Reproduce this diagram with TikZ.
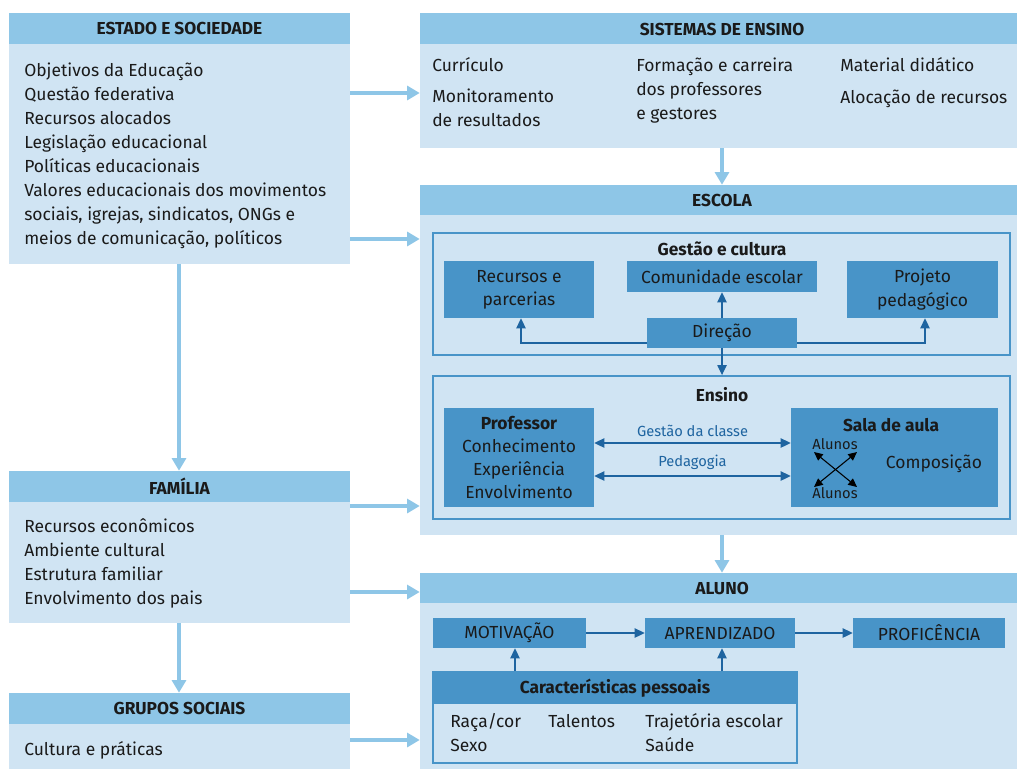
\documentclass[tikz,border=0pt]{standalone}
\usepackage{fontspec}
\setmainfont{Fira Sans}
\usetikzlibrary{arrows.meta,fit}
\definecolor{hdrc}{HTML}{8EC6E7}
\definecolor{bdy}{HTML}{D0E4F3}
\definecolor{mid}{HTML}{4894C8}
\definecolor{dk}{HTML}{1E64A0}
\definecolor{txt}{HTML}{1A1A1A}
\newcommand\myBody{\fontsize{13.1}{17.5}\selectfont}
\newcommand\myHead{\fontsize{13}{15}\selectfont\bfseries}
\newcommand\mySmall{\fontsize{11}{13}\selectfont}
\begin{document}
\begin{tikzpicture}[x=0.75pt,y=-0.75pt,
  every node/.style={text=txt},
  panel/.style={fill=bdy,draw=none,inner sep=0pt},
  hdr/.style={fill=hdrc,draw=none,inner sep=0pt},
  mbox/.style={fill=mid,draw=none,inner sep=0pt},
  frame/.style={draw=mid,line width=1.4pt,fill=none,inner sep=0pt},
  tx/.style={inner sep=0pt,align=center,font=\myBody},
  ht/.style={inner sep=0pt,font=\myHead},
  lb/.style={draw=hdrc,line width=2.3pt,-{Triangle[length=9.5pt,width=10.5pt]}},
  dka/.style={draw=dk,line width=0.9pt,-{Triangle[length=7.5pt,width=7pt]}},
  dkb/.style={draw=dk,line width=0.9pt,{Triangle[length=7.5pt,width=7pt]}-{Triangle[length=7.5pt,width=7pt]}},
  bka/.style={draw=black,line width=0.8pt,{Triangle[length=6.5pt,width=6pt]}-{Triangle[length=6.5pt,width=6pt]}},
  ln/.style={anchor=base west,inner sep=0pt,font=\myBody},
  lbl/.style={inner sep=0pt,font=\mySmall,text=dk},
]
\useasboundingbox (0,0) rectangle (1017,769);

% ---------- left column ----------
\node[panel,fit={(9,13)(350,264)}] (estado) {};
\node[hdr,fit={(9,13)(350,44)}] (estadoH) {};
\node[ht] at (estadoH.center) {ESTADO E SOCIEDADE};
\foreach \t [count=\i from 0] in {Objetivos da Educação,Questão federativa,Recursos alocados,Legislação educacional,Políticas educacionais,Valores educacionais dos movimentos,{sociais, igrejas, sindicatos, ONGs e},{meios de comunicação, políticos}}
  \node[ln] (est\i) at (24,76+24*\i) {\t};

\node[panel,fit={(9,471)(350,623)}] (fam) {};
\node[hdr,fit={(9,471)(350,502)}] (famH) {};
\node[ht] at (famH.center) {FAMÍLIA};
\foreach \t [count=\i from 0] in {Recursos econômicos,Ambiente cultural,Estrutura familiar,Envolvimento dos pais}
  \node[ln] (fam\i) at (24,532+24*\i) {\t};

\node[panel,fit={(9,693)(350,769)}] (grp) {};
\node[hdr,fit={(9,693)(350,724)}] (grpH) {};
\node[ht] at (grpH.center) {GRUPOS SOCIAIS};
\node[ln] (grp0) at (24,755) {Cultura e práticas};

% ---------- sistemas ----------
\node[panel,fit={(420,13)(1017,148)}] (sist) {};
\node[hdr,fit={(420,13)(1017,44)}] (sistH) {};
\node[ht] at (722,29) {SISTEMAS DE ENSINO};
\node[ln] (s1) at (432,71) {Currículo};
\node[ln] (s2) at (432,102) {Monitoramento};
\node[ln] (s3) at (432,126) {de resultados};
\node[ln] (s4) at (636,71) {Formação e carreira};
\node[ln] (s5) at (636,95) {dos professores};
\node[ln] (s6) at (636,119) {e gestores};
\node[ln] (s7) at (840,71) {Material didático};
\node[ln] (s8) at (840,103) {Alocação de recursos};

% ---------- escola ----------
\node[panel,fit={(420,185)(1017,535)}] (escola) {};
\node[hdr,fit={(420,185)(1017,215)}] (escolaH) {};
\node[ht] at (722,200) {ESCOLA};
\node[frame,fit={(433,233)(1010,355)}] (gest) {};
\node[ht] (gestT) at (722,249) {Gestão e cultura};
\node[mbox,fit={(444,261)(594,318)}] (rec) {};
\node[tx] at (rec.center) {Recursos e\\parcerias};
\node[mbox,fit={(627,261)(817,292)}] (com) {};
\node[tx] at (com.center) {Comunidade escolar};
\node[mbox,fit={(847,261)(998,318)}] (proj) {};
\node[tx] at (proj.center) {Projeto\\pedagógico};
\node[mbox,fit={(647,318)(797,348)}] (dir) {};
\node[tx] at (dir.center) {Direção};
\draw[dka] (dir.west |- 0,343) -| (rec.south -| 521,0);
\draw[dka] (dir.east |- 0,343) -| (proj.south -| 925,0);
\draw[dka] (dir.north) -- (com.south -| dir.north);

\node[frame,fit={(433,376)(1010,519)}] (ens) {};
\draw[dka] (dir.south) -- (ens.north -| dir.south);
\node[ht] (ensT) at (722,395) {Ensino};
\node[mbox,fit={(444,408)(594,507)}] (prof) {};
\node[tx,font=\fontsize{13.1}{17.25}\selectfont] at (prof.center) {\textbf{Professor}\\Conhecimento\\Experiência\\Envolvimento};
\node[mbox,fit={(791,408)(998,507)}] (sala) {};
\node[ht,anchor=base] (salaT) at (891,431) {Sala de aula};
\node[tx] (compo) at (934,464) {Composição};
\node[inner sep=0pt,font=\mySmall] (al1) at (835,444) {Alunos};
\node[inner sep=0pt,font=\mySmall] (al2) at (835,493) {Alunos};
\coordinate (x1) at (814,452); \coordinate (x2) at (857,487);
\coordinate (x3) at (857,452); \coordinate (x4) at (814,487);
\draw[bka] (x1) -- (x2);
\draw[bka] (x3) -- (x4);
\draw[dkb] (prof.east |- 0,443) -- node[lbl,above=4pt] {Gestão da classe} (sala.west |- 0,443);
\draw[dkb] (prof.east |- 0,476) -- node[lbl,above=4pt] {Pedagogia} (sala.west |- 0,476);

% ---------- aluno ----------
\node[panel,fit={(420,573)(1017,769)}] (aluno) {};
\node[hdr,fit={(420,573)(1017,603)}] (alunoH) {};
\node[ht] at (722,588) {ALUNO};
\node[mbox,fit={(433,618)(586,648)}] (mot) {};
\node[tx] at (mot.center) {MOTIVAÇÃO};
\node[mbox,fit={(645,618)(795,648)}] (apr) {};
\node[tx] at (apr.center) {APRENDIZADO};
\node[mbox,fit={(853,618)(1005,648)}] (pro) {};
\node[tx] at (pro.center) {PROFICÊNCIA};
\node[frame,fill=bdy,fit={(433,672)(797,763)}] (car) {};
\node[mbox,fit={(433,672)(797,704)}] (carH) {};
\node[ht] at (carH.center) {Características pessoais};
\node[ln] (c1) at (450,727) {Raça/cor};
\node[ln] (c2) at (450,751) {Sexo};
\node[ln] (c3) at (548,727) {Talentos};
\node[ln] (c4) at (645,727) {Trajetória escolar};
\node[ln] (c5) at (645,751) {Saúde};
\draw[dka] (mot.east) -- (apr.west);
\draw[dka] (apr.east) -- (pro.west);
\draw[dka] (car.north -| 515,0) -- (mot.south -| 515,0);
\draw[dka] (car.north -| 722,0) -- (apr.south -| 722,0);

% ---------- light arrows ----------
\draw[lb] (estado.east |- 0,93) -- (sist.west |- 0,93);
\draw[lb] (estado.east |- 0,239) -- (escola.west |- 0,239);
\draw[lb] (estado.south -| 179,0) -- (famH.north -| 179,0);
\draw[lb] (fam.east |- 0,506) -- (escola.west |- 0,506);
\draw[lb] (fam.east |- 0,592) -- (aluno.west |- 0,592);
\draw[lb] (fam.south -| 179,0) -- (grpH.north -| 179,0);
\draw[lb] (grp.east |- 0,740) -- (aluno.west |- 0,740);
\draw[lb] (sist.south -| 722,0) -- (escolaH.north -| 722,0);
\draw[lb] (escola.south -| 722,0) -- (alunoH.north -| 722,0);
\end{tikzpicture}
\end{document}
